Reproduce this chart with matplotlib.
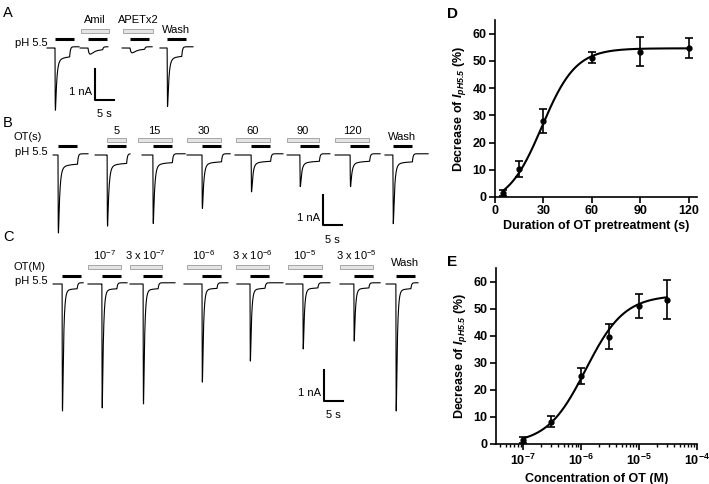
import numpy as np
import matplotlib
matplotlib.use('Agg')
import matplotlib.pyplot as plt
from matplotlib.patches import Rectangle
from matplotlib.ticker import LogLocator, FuncFormatter, NullFormatter

plt.rcParams['font.family'] = ['Liberation Sans', 'DejaVu Sans']
plt.rcParams['mathtext.fontset'] = 'custom'
plt.rcParams['mathtext.rm'] = 'Liberation Sans'
plt.rcParams['mathtext.it'] = 'Liberation Sans:italic'
plt.rcParams['mathtext.bf'] = 'Liberation Sans:bold'
plt.rcParams['mathtext.bfit'] = 'Liberation Sans:bold:italic'

# ---------------- 电流记录数据 (时间 s, 电流 nA) ----------------
# A: 对照 / Amil / APETx2 / Wash
a_start = [1.9, 10.7, 21.9, 32.0]
a_onset = [4.0, 12.8, 24.0, 33.9]
a_end = [10.4, 18.1, 29.9, 40.8]
a_peak = [2.10, 0.23, 0.18, 1.97]
a_sus = [0.45, 0.08, 0.06, 0.42]
a_rise = [0.05, 0.45, 0.45, 0.05]
a_labels = ['', 'Amil', 'APETx2', 'Wash']

# B: OT 预处理时间
b_start = [3.5, 14.7, 27.2, 39.2, 52.0, 65.9, 78.7, 92.0]
b_onset = [4.8, 17.9, 30.1, 43.2, 56.3, 69.3, 82.7, 94.1]
b_end = [12.8, 24.0, 38.7, 50.7, 64.8, 77.3, 90.7, 103.5]
b_peak = [2.62, 2.39, 2.30, 1.80, 1.25, 1.08, 1.08, 2.30]
b_sus = [0.48, 0.44, 0.40, 0.36, 0.33, 0.33, 0.33, 0.36]
b_lead = [None, 0.0, 4.0, 4.0, 4.0, 3.5, 4.0, None]
b_labels = ['', '5', '15', '30', '60', '90', '120', 'Wash']

# C: OT 浓度
c_start = [3.5, 12.8, 24.0, 38.4, 52.5, 65.6, 80.0, 92.3]
c_onset = [5.9, 16.5, 27.5, 43.2, 56.0, 70.1, 83.7, 94.9]
c_end = [11.5, 23.2, 36.0, 50.1, 64.8, 77.3, 90.7, 100.8]
c_peak = [4.20, 4.10, 3.97, 3.25, 2.56, 2.16, 1.90, 4.20]
c_sus = [0.24, 0.24, 0.24, 0.22, 0.22, 0.20, 0.20, 0.24]
c_lead = [None, 3.8, 3.5, 4.0, 3.8, 4.0, 3.8, None]
c_labels = ['', r'$\mathregular{10^{-7}}$', r'3 x $\mathregular{10^{-7}}$',
            r'$\mathregular{10^{-6}}$', r'3 x $\mathregular{10^{-6}}$',
            r'$\mathregular{10^{-5}}$', r'3 x $\mathregular{10^{-5}}$', 'Wash']

# ---------------- D / E 统计数据 ----------------
dur = [5, 15, 30, 60, 90, 120]
dec_d = [1.5, 10.4, 27.9, 51.2, 53.4, 54.8]
err_d = [1.0, 2.9, 4.4, 2.0, 5.2, 3.6]
# Boltzmann 拟合参数
fit_d = dict(bottom=-3.0, top=54.6, x50=29.0, k=10.5)

conc = [1e-7, 3e-7, 1e-6, 3e-6, 1e-5, 3e-5]
dec_e = [1.5, 8.3, 25.1, 39.7, 51.0, 53.2]
err_e = [1.2, 2.0, 3.0, 4.7, 4.3, 7.2]
# Hill 拟合参数
fit_e = dict(top=55.0, ec50=1.2e-6, n=1.3)

W, H = 709, 484
PX_S, PX_NA = 3.75, 30.5
fig = plt.figure(figsize=(W / 100, H / 100), dpi=100)


def trace_axes(top, bottom, base):
    # 记录区：x 单位 s，y 单位 nA，基线为 0
    ax = fig.add_axes([40 / W, 1 - bottom / H, 420 / W, (bottom - top) / H])
    ax.set_xlim(0, 420 / PX_S)
    ax.set_ylim(-(bottom - base) / PX_NA, (base - top) / PX_NA)
    ax.axis('off')
    return ax


def sweep(ax, t0, t_on, t_end, peak, sus, rise, tau, t_step):
    t = np.linspace(t0, t_end, 3000)
    dt = np.clip(t - t_on, 0, None)
    act = 1 - np.exp(-dt / rise)
    tr = act * np.exp(-dt / tau)
    tr = tr / tr.max()
    # 快速脱敏 + 缓慢衰减的持续电流
    y = -(sus * act * (0.6 + 0.4 * np.exp(-dt / 2.0)) + (peak - sus) * tr)
    off = t_on + t_step
    k_off = np.exp(-np.clip(t - off, 0, None) / 0.2)
    y = np.where(t > off, y * k_off + 0.04 * (1 - k_off), y)
    ax.plot(t, y, color='k', lw=0.8)


def black_bar(ax, t_on, level):
    ax.plot([t_on, t_on + 5], [level, level], color='k', lw=2.2, solid_capstyle='butt')


def gray_bar(ax, x0, x1, level):
    h = 3.5 / PX_NA
    ax.add_patch(Rectangle((x0, level - h / 2), x1 - x0, h, facecolor='#e4e4e4',
                           edgecolor='#9a9a9a', lw=0.6))


def scale_bar(ax, x, y_top):
    ax.plot([x, x, x + 5], [y_top, y_top - 1, y_top - 1], color='k', lw=1.5)
    ax.text(x - 0.9, y_top - 0.75, '1 nA', ha='right', va='center', fontsize=8)
    ax.text(x + 2.5, y_top - 1.3, '5 s', ha='center', va='top', fontsize=8)


def px(x, y):
    return x / W, 1 - y / H


# ---------------- A ----------------
axA = trace_axes(0, 125, 48)
for i in range(4):
    sweep(axA, a_start[i], a_onset[i], a_end[i], a_peak[i], a_sus[i], a_rise[i],
          0.35 if a_rise[i] < 0.1 else 1.0, 3.9)
    black_bar(axA, a_onset[i], 0.30)
    if a_labels[i] in ('Amil', 'APETx2'):
        gray_bar(axA, a_start[i] + 0.2, a_end[i] + 0.2, 0.56)
        axA.text((a_start[i] + a_end[i]) / 2 + 0.2, 0.92, a_labels[i],
                 ha='center', va='center', fontsize=8)
    elif a_labels[i] == 'Wash':
        axA.text(a_onset[i] + 2.5, 0.60, 'Wash', ha='center', va='center', fontsize=8)
scale_bar(axA, 14.7, -0.69)

# ---------------- B ----------------
axB = trace_axes(120, 245, 155)
for i in range(8):
    sweep(axB, b_start[i], b_onset[i], b_end[i], b_peak[i], b_sus[i], 0.05, 0.35, 5.2)
    black_bar(axB, b_onset[i], 0.30)
    if b_lead[i] is not None:
        gray_bar(axB, b_onset[i] - b_lead[i], b_onset[i] + 5, 0.49)
        axB.text(b_onset[i] + (5 - b_lead[i]) / 2, 0.80, b_labels[i],
                 ha='center', va='center', fontsize=8)
    elif b_labels[i] == 'Wash':
        axB.text(b_onset[i] + 2.5, 0.58, 'Wash', ha='center', va='center', fontsize=8)
scale_bar(axB, 75.5, -1.31)

# ---------------- C ----------------
axC = trace_axes(245, 484, 284)
for i in range(8):
    sweep(axC, c_start[i], c_onset[i], c_end[i], c_peak[i], c_sus[i], 0.05, 0.3, 4.0)
    black_bar(axC, c_onset[i], 0.27)
    if c_lead[i] is not None:
        gray_bar(axC, c_onset[i] - c_lead[i], c_onset[i] + 5, 0.56)
        axC.text(c_onset[i] + (5 - c_lead[i]) / 2, 0.95, c_labels[i],
                 ha='center', va='center', fontsize=8)
    elif c_labels[i] == 'Wash':
        axC.text(c_onset[i] + 2.5, 0.68, 'Wash', ha='center', va='center', fontsize=8)
scale_bar(axC, 75.7, -2.82)

# 左侧文字
for lab, (x, y) in zip(['A', 'B', 'C'], [(3, 13), (3, 123), (3, 237)]):
    fig.text(*px(x, y), lab, fontsize=10.5, ha='left', va='center')
for y in (43, 152, 281):
    fig.text(*px(48, y), 'pH 5.5', fontsize=8, ha='right', va='center')
fig.text(*px(13, 137), 'OT(s)', fontsize=8, ha='left', va='center')
fig.text(*px(13, 267), 'OT(M)', fontsize=8, ha='left', va='center')


def style_axes(ax):
    for s in ('top', 'right'):
        ax.spines[s].set_visible(False)
    for s in ('left', 'bottom'):
        ax.spines[s].set_linewidth(1.2)
    ax.tick_params(direction='out', width=1.2, length=4, labelsize=9, pad=2)
    for lab in ax.get_xticklabels() + ax.get_yticklabels():
        lab.set_fontweight('bold')
    ax.set_ylim(0, 65)
    ax.set_yticks(range(0, 61, 10))
    ax.set_ylabel(r'Decrease of $\mathbfit{I}_{\mathbfit{pH5.5}}$ (%)', fontsize=9,
                  fontweight='bold', labelpad=3)


# ---------------- D ----------------
axD = fig.add_axes([495 / W, 1 - 197 / H, 202 / W, 177 / H])
xx = np.linspace(5, 120, 300)
yy = fit_d['bottom'] + (fit_d['top'] - fit_d['bottom']) / (1 + np.exp((fit_d['x50'] - xx) / fit_d['k']))
axD.plot(xx, yy, color='k', lw=1.5)
axD.errorbar(dur, dec_d, yerr=err_d, fmt='o', ms=3.5, color='k', elinewidth=1.2,
             capsize=3, capthick=1.2)
axD.set_xlim(0, 125)
axD.set_xticks([0, 30, 60, 90, 120])
style_axes(axD)
axD.set_xlabel('Duration of OT pretreatment (s)', fontsize=9, fontweight='bold', labelpad=2)
fig.text(*px(447, 14), 'D', fontsize=11, fontweight='bold', ha='left', va='center')

# ---------------- E ----------------
axE = fig.add_axes([496 / W, 1 - 444 / H, 201 / W, 176 / H])
cc = np.logspace(-7, np.log10(3e-5), 300)
ye = fit_e['top'] / (1 + (fit_e['ec50'] / cc) ** fit_e['n'])
axE.plot(cc, ye, color='k', lw=1.5)
axE.errorbar(conc, dec_e, yerr=err_e, fmt='o', ms=3.5, color='k', elinewidth=1.2,
             capsize=3, capthick=1.2)
axE.set_xscale('log')
axE.set_xlim(10 ** -7.47, 1e-4)
axE.xaxis.set_major_locator(LogLocator(base=10, numticks=10))
axE.xaxis.set_major_formatter(FuncFormatter(lambda v, p: r'$\mathbf{10^{%d}}$' % round(np.log10(v))))
axE.xaxis.set_minor_locator(LogLocator(base=10, subs=np.arange(2, 10), numticks=20))
axE.xaxis.set_minor_formatter(NullFormatter())
style_axes(axE)
axE.tick_params(which='minor', direction='out', width=1.0, length=2.5)
axE.set_xlabel('Concentration of OT (M)', fontsize=9, fontweight='bold', labelpad=4)
fig.text(*px(447, 262), 'E', fontsize=11, fontweight='bold', ha='left', va='center')

fig.savefig('out.png', dpi=100)
